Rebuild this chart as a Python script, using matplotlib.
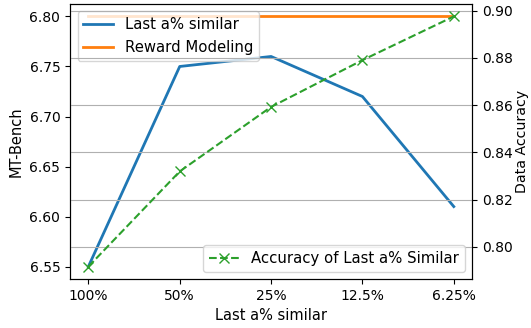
import numpy as np
from matplotlib import pyplot as plt

ratios = ['100%', '50%', '25%', '12.5%', '6.25%']
mt_bench = [6.55, 6.75, 6.76, 6.72, 6.61]
reward_modeling = [6.80, 6.80, 6.80, 6.80, 6.80]
accuracy = [0.7916, 0.8319, 0.8592, 0.8790, 0.8975]

fig, ax1 = plt.subplots(figsize=(5.31, 3.28), dpi=100)
fig.subplots_adjust(left=0.132, right=0.889, top=0.988, bottom=0.149)

X = np.arange(len(ratios))

ax1.plot(X, mt_bench, linewidth=2, label='Last a% similar')
ax1.plot(X, reward_modeling, linewidth=2, label='Reward Modeling')
ax1.set_xticks(X)
ax1.set_xticklabels(ratios)
ax1.set_xlabel('Last a% similar', fontsize=10.5)
ax1.set_ylabel('MT-Bench', fontsize=10.5)
ax1.legend(loc='upper left', fontsize=10.7)

ax2 = ax1.twinx()
ax2.plot(X, accuracy, color='tab:green', linestyle='--', linewidth=1.5, marker='x', markersize=7,
         label='Accuracy of Last a% Similar')
ax2.set_ylabel('Data Accuracy', fontsize=10.2, labelpad=2)
ax2.grid(axis='y')
ax2.legend(loc='lower right', fontsize=10.7)

plt.savefig('out.png')
